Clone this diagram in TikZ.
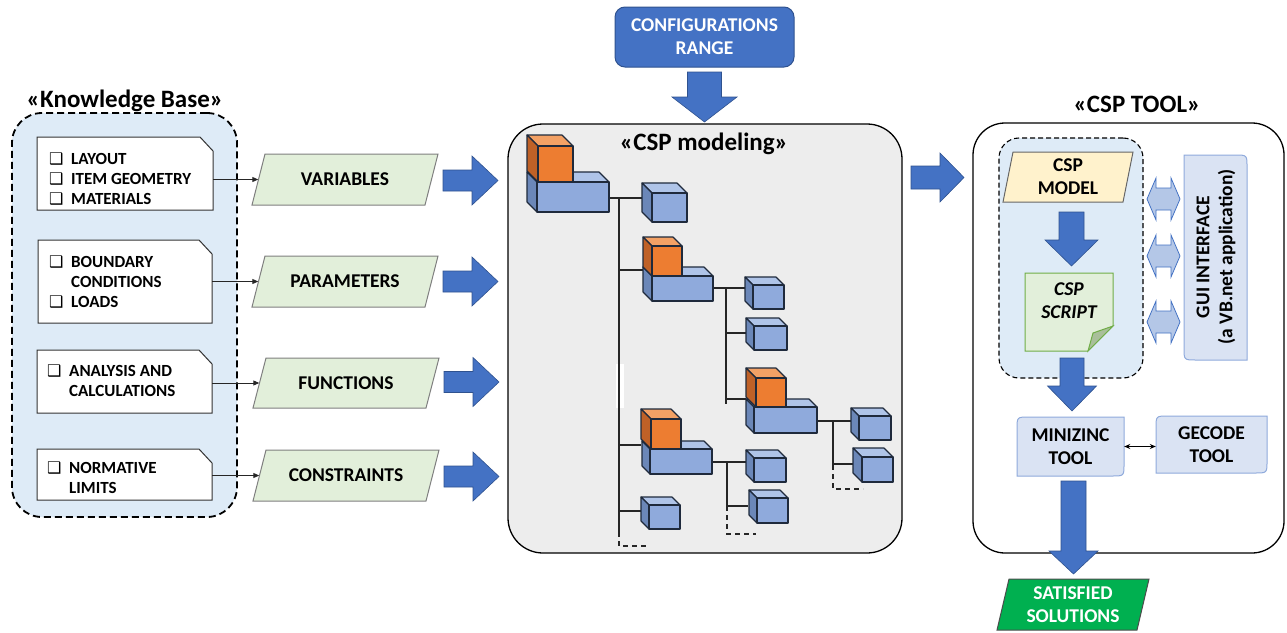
\documentclass[tikz,border=0pt]{standalone}
\usepackage{fontspec}
\setmainfont{Carlito}
\newfontfamily\djv{DejaVu Sans}
\usetikzlibrary{arrows.meta}
\definecolor{kbfill}{HTML}{DEEBF7}
\definecolor{parafill}{HTML}{E2EFDA}
\definecolor{paraedge}{HTML}{7F7F7F}
\definecolor{arrblue}{HTML}{4472C4}
\definecolor{arredge}{HTML}{2F528F}
\definecolor{modfill}{HTML}{EDEDED}
\definecolor{cubfront}{HTML}{8FAADC}
\definecolor{cubtop}{HTML}{AFC4E8}
\definecolor{cubside}{HTML}{6B87B8}
\definecolor{orfront}{HTML}{ED7D31}
\definecolor{ortop}{HTML}{F3A165}
\definecolor{orside}{HTML}{BF6127}
\definecolor{cubedge}{HTML}{1F2A3C}
\definecolor{yelfill}{HTML}{FFF2CC}
\definecolor{scriptedge}{HTML}{70AD47}
\definecolor{foldfill}{HTML}{A9BF9A}
\definecolor{dblfill}{HTML}{B4C7E7}
\definecolor{toolfill}{HTML}{DAE3F3}
\definecolor{tooledge}{HTML}{8FAADC}
\definecolor{satfill}{HTML}{00B050}
% right-pointing block arrow: tailx, yc, basex, tipx, shaft half, head half
\newcommand\myrarr[6]{%
  \path[bigarrow] (#1,{#2-#5}) -- (#3,{#2-#5}) -- (#3,{#2-#6}) -- (#4,#2) -- (#3,{#2+#6}) -- (#3,{#2+#5}) -- (#1,{#2+#5}) -- cycle;}
% down-pointing block arrow: xc, taily, basey, tipy, shaft half, head half
\newcommand\mydarr[6]{%
  \path[bigarrow] ({#1-#5},#2) -- ({#1+#5},#2) -- ({#1+#5},#3) -- ({#1+#6},#3) -- (#1,#4) -- ({#1-#6},#3) -- ({#1-#5},#3) -- cycle;}
% left-right double block arrow
\newcommand\mydbl[2]{%
  \path[dblarrow] ({#1-16.5},#2) -- ({#1-7.5},{#2-21}) -- ({#1-7.5},{#2-11}) -- ({#1+7.5},{#2-11}) -- ({#1+7.5},{#2-21}) -- ({#1+16.5},#2) -- ({#1+7.5},{#2+21}) -- ({#1+7.5},{#2+11}) -- ({#1-7.5},{#2+11}) -- ({#1-7.5},{#2+21}) -- cycle;}
% parallelogram: name, cx, cy, w, h, slant, path style, node style, text
\newcommand\mypara[9]{%
  \path[#7] ({#2-#4/2},{#3+#5/2}) -- ({#2-#4/2+#6},{#3-#5/2}) -- ({#2+#4/2},{#3-#5/2}) -- ({#2+#4/2-#6},{#3+#5/2}) -- cycle;
  \node[lbl, minimum width=#4, minimum height=#5, #8] (#1) at (#2,#3) {#9};}
% note with snipped corner: name x1 y1 x2 y2
\newcommand\mynote[5]{%
  \path[notestyle] (#2,#3) -- ({#4-13},#3) -- (#4,{#3+14}) -- (#4,#5) -- (#2,#5) -- cycle;
  \node[inner sep=0, minimum width={#4-#2}, minimum height={#5-#3}] (#1) at ({(#2+#4)/2},{(#3+#5)/2}) {};}
% rect with top-left and bottom-right rounded
\newcommand\mydiagA[6]{%
  \path[#6] (#1,{#2+#5}) .. controls (#1,#2) .. ({#1+#5},#2) -- (#3,#2) -- (#3,{#4-#5}) .. controls (#3,#4) .. ({#3-#5},#4) -- (#1,#4) -- cycle;}
% rect with top-right and bottom-left rounded
\newcommand\mydiagB[6]{%
  \path[#6] (#1,#2) -- ({#3-#5},#2) .. controls (#3,#2) .. (#3,{#2+#5}) -- (#3,#4) -- ({#1+#5},#4) .. controls (#1,#4) .. (#1,{#4-#5}) -- cycle;}
% cuboid: x1 y1 x2 y2 depth front top side
\newcommand\mycub[8]{%
  \path[cubeedge, fill=#7] (#1,#2) -- (#3,#2) -- ({#3-#5},{#2-#5}) -- ({#1-#5},{#2-#5}) -- cycle;
  \path[cubeedge, fill=#8] (#1,#2) -- ({#1-#5},{#2-#5}) -- ({#1-#5},{#4-#5}) -- (#1,#4) -- cycle;
  \path[cubeedge, fill=#6] (#1,#2) rectangle (#3,#4);}
\newcommand\bcub[5]{\mycub{#1}{#2}{#3}{#4}{#5}{cubfront}{cubtop}{cubside}}
\newcommand\ocub[5]{\mycub{#1}{#2}{#3}{#4}{#5}{orfront}{ortop}{orside}}
\newcommand\cb{\makebox[22pt][l]{\djv\fontsize{16}{16}\selectfont ❑}}
\begin{document}
\begin{tikzpicture}[x=1pt,y=-1pt,
  lbl/.style={font=\fontsize{19.5}{23}\selectfont\bfseries, align=center, inner sep=0},
  lblit/.style={font=\fontsize{19.5}{23}\selectfont\bfseries\itshape, align=center, inner sep=0},
  ttl/.style={font=\fontsize{25}{30}\selectfont\bfseries, inner sep=0, anchor=base},
  notetxt/.style={font=\fontsize{17}{20}\selectfont\bfseries, inner sep=0, anchor=west},
  notestyle/.style={fill=white, draw=black!80, line width=1},
  parastyle/.style={fill=parafill, draw=paraedge, line width=1},
  yelstyle/.style={fill=yelfill, draw=black!60, line width=1},
  satstyle/.style={fill=satfill, draw=black!70, line width=1},
  bigarrow/.style={fill=arrblue, draw=arredge, line width=0.6},
  dblarrow/.style={fill=dblfill, draw=arrblue, line width=0.8},
  thinarrow/.style={draw=black!85, line width=0.9, -{Triangle[length=6pt,width=5pt]}},
  tree/.style={draw=black!85, line width=1.4},
  treedash/.style={tree, dash pattern=on 5pt off 4pt},
  cubeedge/.style={draw=cubedge, line width=1.1, line join=round},
  toolbox/.style={fill=toolfill, draw=tooledge, line width=1},
]
\useasboundingbox (0,0) rectangle (1287,632);

% ---------------- Knowledge base ----------------
\node[ttl] (kbt) at (125,107) {«Knowledge Base»};
\node[fill=kbfill, draw=black, line width=1.8, dash pattern=on 7pt off 4pt, rounded corners=30, minimum width=225, minimum height=404, inner sep=0] (kb) at (124.5,315) {};

\mynote{n1}{37}{137}{213}{210}
\mynote{n2}{38}{240}{212}{323}
\mynote{n3}{37}{350}{212}{413}
\mynote{n4}{37}{449}{212}{500}

\node[notetxt] (n1t) at (49,180) {\begin{tabular}{@{}l@{}l@{}}\cb & LAYOUT\\ \cb & ITEM GEOMETRY\\ \cb & MATERIALS\end{tabular}};
\node[notetxt] (n2t) at (49,283) {\begin{tabular}{@{}l@{}l@{}}\cb & BOUNDARY\\ & CONDITIONS\\ \cb & LOADS\end{tabular}};
\node[notetxt] (n3t) at (47,382) {\begin{tabular}{@{}l@{}l@{}}\cb & ANALYSIS AND\\ & CALCULATIONS\end{tabular}};
\node[notetxt] (n4t) at (47,479) {\begin{tabular}{@{}l@{}l@{}}\cb & NORMATIVE\\ & LIMITS\end{tabular}};

\mypara{v1}{345}{179.5}{186}{51}{13}{parastyle}{}{VARIABLES}
\mypara{v2}{345}{281.5}{186}{51}{13}{parastyle}{}{PARAMETERS}
\mypara{v3}{346}{383}{186}{50}{13}{parastyle}{}{FUNCTIONS}
\mypara{v4}{346}{475.5}{186}{51}{13}{parastyle}{}{CONSTRAINTS}

\draw[thinarrow] (n1.east |- v1.west) -- ([xshift=6.5pt]v1.west);
\draw[thinarrow] (n2.east |- v2.west) -- ([xshift=6.5pt]v2.west);
\draw[thinarrow] (n3.east |- v3.west) -- ([xshift=6.5pt]v3.west);
\draw[thinarrow] (n4.east |- v4.west) -- ([xshift=6.5pt]v4.west);

\myrarr{443}{180.5}{472}{498}{10.5}{24.5}
\myrarr{443}{281.5}{472}{498}{10.5}{24.5}
\myrarr{444}{382}{473}{499}{10.5}{24.5}
\myrarr{444}{476.5}{473}{499}{10.5}{24.5}

% ---------------- CSP modeling ----------------
\node[fill=modfill, draw=black, line width=1.3, rounded corners=35, minimum width=394, minimum height=429, inner sep=0] (mod) at (705,338.5) {};
\node[ttl] (modt) at (704,150) {«CSP modeling»};

\node[fill=arrblue, draw=arredge, line width=1, rounded corners=10, minimum width=179, minimum height=60, lbl, text=white] (cfg) at (704.5,37) {CONFIGURATIONS\\RANGE};
\mydarr{704.5}{72}{97}{122}{17}{32.5}

% tree coordinates
\coordinate (R-out) at (609,198);
\coordinate (T1) at (619,198);
\coordinate (T1end) at (619,532);
\coordinate (T1dash) at (619,546);
\coordinate (T1fin) at (647,546);
\coordinate (C1-in) at (642,198);
\coordinate (C2-in) at (643,270);
\coordinate (C3-in) at (641,445);
\coordinate (C4-in) at (641,511);
\coordinate (C2-out) at (713,288);
\coordinate (T2) at (726,288);
\coordinate (T2end) at (726,404);
\coordinate (C2a-in) at (745,288);
\coordinate (C2b-in) at (746,333);
\coordinate (C2c-in) at (746,399);
\coordinate (C2c-out) at (817,421);
\coordinate (T3) at (833,421);
\coordinate (T3end) at (833,465);
\coordinate (T3dash) at (833,489);
\coordinate (T3fin) at (863,489);
\coordinate (C2ca-in) at (852,421);
\coordinate (C2cb-in) at (853,464);
\coordinate (C3-out) at (712,462);
\coordinate (T4) at (727,462);
\coordinate (T4end) at (727,506);
\coordinate (T4dash) at (727,534);
\coordinate (T4fin) at (756,534);
\coordinate (C3a-in) at (747,462);
\coordinate (C3b-in) at (748,506);

\fill[white] (616,364) rectangle (624,408);

\draw[tree] (R-out) -- (C1-in);
\draw[tree] (T1) -- (T1end);
\draw[treedash] (T1end) -- (T1dash) -- (T1fin);
\draw[tree] (T1 |- C2-in) -- (C2-in);
\draw[tree] (T1 |- C3-in) -- (C3-in);
\draw[tree] (T1 |- C4-in) -- (C4-in);
\draw[tree] (C2-out) -- (C2a-in);
\draw[tree] (T2) -- (T2end);
\draw[tree] (T2 |- C2b-in) -- (C2b-in);
\draw[tree] (T2 |- C2c-in) -- (C2c-in);
\draw[tree] (C2c-out) -- (C2ca-in);
\draw[tree] (T3) -- (T3end);
\draw[treedash] (T3end) -- (T3dash) -- (T3fin);
\draw[tree] (T3 |- C2cb-in) -- (C2cb-in);
\draw[tree] (C3-out) -- (C3a-in);
\draw[tree] (T4) -- (T4end);
\draw[treedash] (T4end) -- (T4dash) -- (T4fin);
\draw[tree] (T4 |- C3b-in) -- (C3b-in);

\bcub{537}{182}{609}{212}{10} \ocub{538}{146}{573}{182}{11}
\bcub{652}{193}{687}{222}{10}
\bcub{652}{276}{713}{301}{9} \ocub{652}{246}{682}{276}{9}
\bcub{753}{285}{784}{309}{8}
\bcub{754}{326}{787}{350}{8}
\bcub{754}{407}{817}{433}{8} \ocub{756}{378}{786}{407}{10}
\bcub{859}{416}{891}{440}{8}
\bcub{862}{457}{893}{482}{9}
\bcub{650}{449}{712}{474}{8} \ocub{651}{419}{681}{449}{10}
\bcub{754}{458}{786}{482}{8}
\bcub{757}{498}{788}{523}{8}
\bcub{649}{505}{680}{529}{8}

\myrarr{911}{177.5}{940}{964}{11.5}{24.5}

% ---------------- CSP tool ----------------
\node[ttl] (toolt) at (1137,112) {«CSP TOOL»};
\node[draw=black, line width=1.3, fill=white, rounded corners=32, minimum width=311, minimum height=430, inner sep=0] (tool) at (1128.5,338) {};
\node[fill=kbfill, draw=black, line width=1.1, dash pattern=on 5pt off 3pt, rounded corners=20, minimum width=144, minimum height=240, inner sep=0] (inner) at (1071,258) {};

\mypara{cspm}{1068}{177}{130}{50}{10}{yelstyle}{}{CSP\\MODEL}
\mydarr{1071.5}{212}{240}{266}{12.5}{26.5}

\path[fill=parafill, draw=scriptedge, line width=1] (1025,273) -- (1113,273) -- (1113,326) -- (1088,351) -- (1025,351) -- cycle;
\path[fill=foldfill, draw=scriptedge, line width=1] (1113,326) -- (1093,333) -- (1088,351) -- cycle;
\node[lblit] (script) at (1069,301) {CSP\\SCRIPT};

\mydbl{1163.5}{199}
\mydbl{1163.5}{256}
\mydbl{1163.5}{322}

\mydiagB{1184}{155}{1247}{360}{12}{toolbox}
\node[lbl, rotate=90] (gui) at (1216,257) {GUI INTERFACE\\(a VB.net application)};

\mydarr{1072}{358}{386}{411}{12}{24.5}

\mydiagA{1017}{417}{1124}{476}{12}{toolbox}
\node[lbl, minimum width=107, minimum height=59] (mz) at (1070.5,446.5) {MINIZINC\\TOOL};
\mydiagA{1156}{416}{1267}{473}{12}{toolbox}
\node[lbl, minimum width=111, minimum height=57] (gc) at (1211.5,444.5) {GECODE\\TOOL};
\draw[black, line width=1.2, {Stealth[length=6pt,width=5pt]}-{Stealth[length=6pt,width=5pt]}] (mz.east) -- (mz.east -| gc.west);

\mydarr{1073.5}{481}{551}{574}{12.5}{24.5}
\mypara{sat}{1073}{604.5}{152}{51}{12}{satstyle}{text=white}{SATISFIED\\SOLUTIONS}
\end{tikzpicture}
\end{document}
